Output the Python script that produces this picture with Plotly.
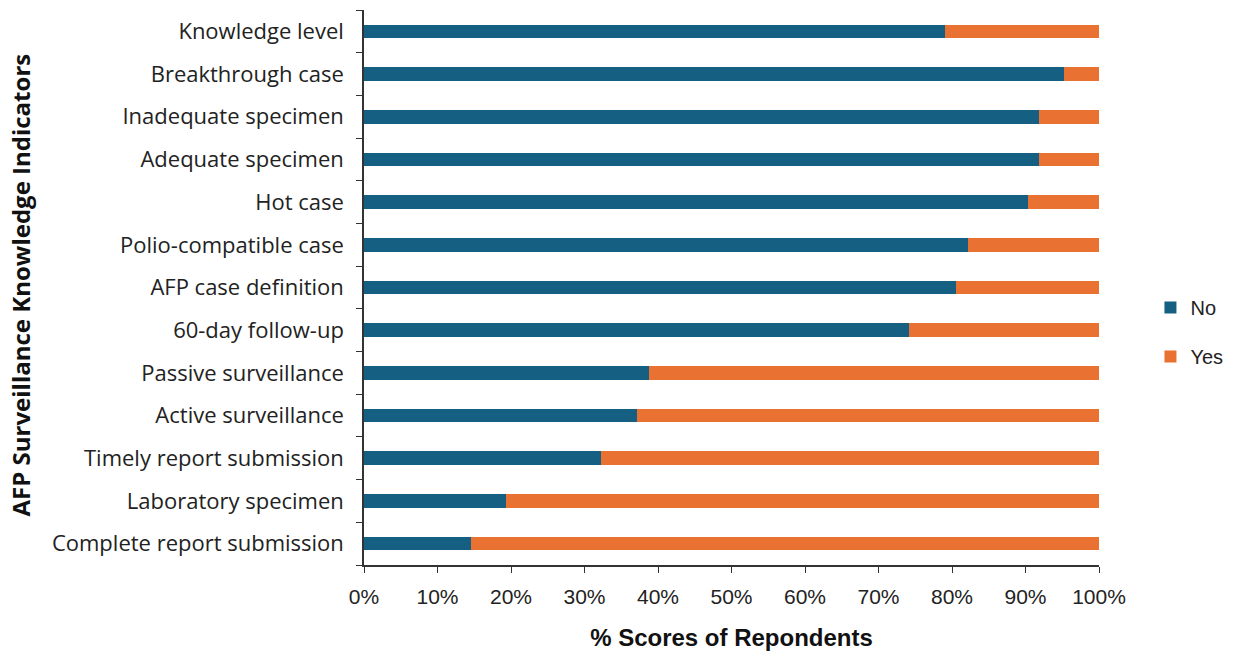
import plotly.graph_objects as go

categories = [
    "Knowledge level", "Breakthrough case", "Inadequate specimen", "Adequate specimen",
    "Hot case", "Polio-compatible case", "AFP case definition", "60-day follow-up",
    "Passive surveillance", "Active surveillance", "Timely report submission",
    "Laboratory specimen", "Complete report submission",
]
no_vals = [79.0, 95.2, 91.9, 91.9, 90.3, 82.2, 80.6, 74.2, 38.8, 37.1, 32.3, 19.3, 14.5]
yes_vals = [round(100 - v, 1) for v in no_vals]
x_ticks = [0, 10, 20, 30, 40, 50, 60, 70, 80, 90, 100]
x_tick_labels = [f"{t}%" for t in x_ticks]

fig = go.Figure()
fig.add_trace(go.Bar(y=categories, x=no_vals, name="No", orientation="h", legendgroup="no",
                     marker=dict(color="#156082", line=dict(width=0))))
fig.add_trace(go.Bar(y=categories, x=yes_vals, name="Yes", orientation="h", legendgroup="yes",
                     marker=dict(color="#E97132", line=dict(width=0))))

fig.update_layout(
    barmode="stack",
    bargap=0.68,
    width=1238, height=654,
    margin=dict(l=364, r=135, t=10, b=89),
    plot_bgcolor="white", paper_bgcolor="white",
    font=dict(family="Liberation Sans, Arial", size=18, color="#222"),
    legend=dict(x=1.07, y=0.42, xanchor="left", yanchor="middle",
                font=dict(family="Liberation Sans, Arial", size=20, color="#222"),
                traceorder="grouped", tracegroupgap=20, itemsizing="constant"),
    xaxis=dict(range=[0, 100], tickvals=x_ticks, ticktext=x_tick_labels, automargin=False,
               showgrid=False, zeroline=False, showline=True, linecolor="#333", linewidth=1.5,
               ticks="outside", ticklen=6, tickcolor="#333", ticklabelstandoff=6,
               tickfont=dict(family="Liberation Sans, Arial", size=21),
               title=dict(text="<b>% Scores of Repondents</b>", standoff=22,
                          font=dict(family="Liberation Sans, Arial", size=24, color="#111"))),
    yaxis=dict(categoryorder="array", categoryarray=categories[::-1], automargin=False,
               showgrid=False, showline=True, linecolor="#333", linewidth=1.5,
               ticks="outside", ticklen=6, tickcolor="#333", tickson="boundaries",
               ticklabelstandoff=14,
               tickfont=dict(family="Open Sans, sans-serif", size=22)),
    annotations=[dict(text="<b>AFP Surveillance Knowledge Indicators</b>", textangle=-90,
                      xref="paper", yref="paper", x=-0.467, y=0.505,
                      xanchor="center", yanchor="middle", showarrow=False,
                      font=dict(family="Open Sans, sans-serif", size=24, color="#111"))],
)

fig.write_html("out.html")
